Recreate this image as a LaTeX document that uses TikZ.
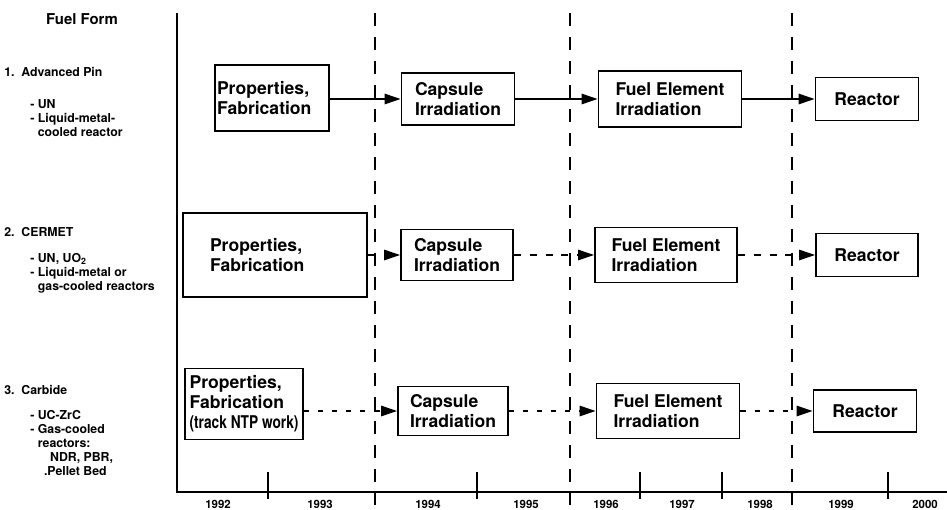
\documentclass[tikz,border=0pt]{standalone}
\usepackage{fontspec}
\usepackage{graphicx}
\setmainfont{TeX Gyre Heros}
\usetikzlibrary{arrows.meta}

\begin{document}
\begin{tikzpicture}[
  x=0.02cm, y=-0.02cm,
  box/.style={draw, line width=1.1pt, inner sep=2pt, align=left, font=\fontsize{10}{11.4}\selectfont\bfseries},
  lbl/.style={inner sep=0pt, anchor=west, align=left, font=\fontsize{7}{8}\selectfont\bfseries},
  yr/.style={inner sep=0pt, font=\fontsize{6.5}{7}\selectfont\bfseries},
  flow/.style={line width=0.8pt, -{Triangle[length=0.32cm,width=0.21cm]}},
  plan/.style={flow, dash pattern=on 4pt off 5pt},
  later/.style={flow, dash pattern=on 3pt off 5pt},
  phase/.style={line width=1.6pt, dash pattern=on 0.26cm off 0.22cm}
]
  \useasboundingbox (0,0) rectangle (947,510);

  % fuel forms
  \node[font=\fontsize{8.5}{10}\selectfont\bfseries] (head) at (82,19) {Fuel Form};
  \node[lbl] (pin) at (4,72) {1.\ \ Advanced Pin};
  \node[lbl, anchor=north west] (pinsub) at (30,99) {- UN\\- Liquid-metal-\\\hphantom{- }cooled reactor};
  \node[lbl] (cermet) at (4,232) {2.\ \ CERMET};
  \node[lbl, anchor=north west] (cermetsub) at (30,253) {- UN, UO\textsubscript{2}\\- Liquid-metal or\\\hphantom{- }gas-cooled reactors};
  \node[lbl] (carbide) at (4,390) {3.\ \ Carbide};
  \node[lbl, anchor=north west] (carbidesub) at (30,410) {- UC-ZrC\\- Gas-cooled\\\hphantom{- }reactors:\\\hphantom{- }\quad NDR, PBR,\\\hphantom{- }\enspace.Pellet Bed};

  % time axis
  \draw[line width=1.4pt] (177,13) -- (177,492) -- (947,492);
  \foreach \x in {268,477,640,722,888}
    \draw[line width=1.4pt] (\x,472) -- (\x,499);
  \foreach \x in {375,570,792}
    \draw[phase] (\x,13) -- (\x,505);
  \foreach \yr/\x in {1992/218,1993/320,1994/428,1995/526,1996/606,1997/682,1998/760,1999/841,2000/925}
    \node[yr] (y\yr) at (\x,504) {\yr};

  % advanced pin
  \node[box, text width=2.2cm, inner xsep=0.5pt, minimum width=2.28cm, minimum height=1.32cm] (p1) at (272,98) {Properties,\\Fabrication};
  \node[box, minimum width=2.26cm, minimum height=1.04cm] (c1) at (458,99) {Capsule\\Irradiation};
  \node[box, minimum width=2.86cm, minimum height=1.12cm] (f1) at (670,99) {Fuel Element\\Irradiation};
  \node[box, minimum width=2.06cm, minimum height=0.86cm] (r1) at (867,99) {Reactor};

  % cermet
  \node[box, text width=2.6cm, minimum width=3.68cm, minimum height=1.68cm] (p2) at (275,255) {Properties,\\Fabrication};
  \node[box, minimum width=2.24cm, minimum height=1.02cm] (c2) at (457,255) {Capsule\\Irradiation};
  \node[box, minimum width=2.84cm, minimum height=1.10cm] (f2) at (666,255) {Fuel Element\\Irradiation};
  \node[box, minimum width=2.04cm, minimum height=0.86cm] (r2) at (867,255) {Reactor};

  % carbide
  \node[box, minimum width=2.36cm, minimum height=1.42cm] (p3) at (244,404) {Properties,\\Fabrication\\\scalebox{0.78}[1]{(track NTP work)}};
  \node[box, minimum width=2.20cm, minimum height=0.98cm] (c3) at (453,411) {Capsule\\Irradiation};
  \node[box, minimum width=2.86cm, minimum height=1.10cm] (f3) at (668,411) {Fuel Element\\Irradiation};
  \node[box, minimum width=2.06cm, minimum height=0.84cm] (r3) at (865,411) {Reactor};

  \draw[flow] (p1.east |- c1.west) -- (c1.west);
  \draw[flow] (c1.east) -- (f1.west);
  \draw[flow] (f1.east) -- (r1.west);

  \draw[plan] (p2.east |- c2.west) -- (c2.west);
  \draw[plan] (c2.east) -- (f2.west);
  \draw[plan] (f2.east) -- (r2.west);

  \draw[later] (p3.east |- c3.west) -- (c3.west);
  \draw[later] (c3.east) -- (f3.west);
  \draw[later] (f3.east) -- (r3.west);
\end{tikzpicture}
\end{document}
